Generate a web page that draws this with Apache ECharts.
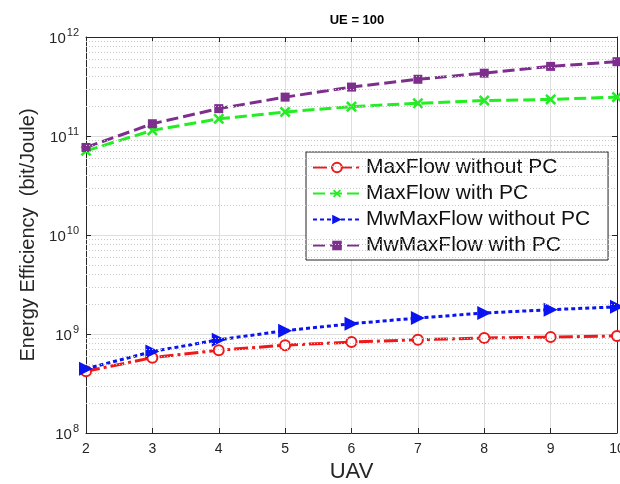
<!DOCTYPE html>
<html><head><meta charset="utf-8">
<script src="https://cdn.jsdelivr.net/npm/echarts@6/dist/echarts.min.js"></script>
<style>html,body{margin:0;padding:0;background:#fff}#c{width:620px;height:484px}</style>
</head><body><div id="c"></div>
<script>
const categories = [2, 3, 4, 5, 6, 7, 8, 9, 10];
const maxFlowNoPC = [4.2e8, 5.77e8, 6.85e8, 7.71e8, 8.28e8, 8.75e8, 9.1e8, 9.3e8, 9.55e8];
const maxFlowPC = [7.08e10, 1.14e11, 1.49e11, 1.75e11, 1.98e11, 2.14e11, 2.28e11, 2.34e11, 2.47e11];
const mwNoPC = [4.45e8, 6.65e8, 8.75e8, 1.08e9, 1.27e9, 1.45e9, 1.63e9, 1.76e9, 1.88e9];
const mwPC = [7.66e10, 1.33e11, 1.89e11, 2.47e11, 3.12e11, 3.74e11, 4.31e11, 5.05e11, 5.63e11];
const seriesNames = ['MaxFlow without PC', 'MaxFlow with PC', 'MwMaxFlow without PC', 'MwMaxFlow with PC'];
const yMin = 1e8, yMax = 1e12;

const minorVals = [];
for (let e = 8; e < 12; e++) for (let m = 2; m <= 9; m++) minorVals.push(m * Math.pow(10, e));

const FONT = '"Liberation Sans", Arial, sans-serif';
const AX = '#262626';
const pair = arr => categories.map((c, i) => [c, arr[i]]);

const chart = echarts.init(document.getElementById('c'), null, {renderer: 'canvas'});
chart.setOption({
  animation: false,
  backgroundColor: '#fff',
  textStyle: {fontFamily: FONT},
  title: {text: 'UE = 100', left: 352, top: 9, textAlign: 'center',
    textStyle: {fontSize: 13, fontWeight: 'bold', color: '#000', fontFamily: FONT}},
  grid: {left: 86, right: 3, top: 37, bottom: 51, containLabel: false, outerBoundsMode: 'none'},
  legend: {
    orient: 'vertical', left: 306, top: 152, itemWidth: 48, itemHeight: 12, itemGap: 5,
    padding: [5, 18, 4, 6], borderColor: '#222', borderWidth: 1, backgroundColor: '#fff',
    textStyle: {fontSize: 21, color: '#111', fontFamily: FONT},
    data: seriesNames
  },
  xAxis: [{
    type: 'value', min: 2, max: 10, interval: 1,
    name: 'UAV', nameLocation: 'middle', nameGap: 22,
    nameTextStyle: {fontSize: 22, color: AX, fontFamily: FONT},
    axisLine: {lineStyle: {color: AX, width: 1}},
    axisTick: {inside: true, length: 5, lineStyle: {color: AX}},
    axisLabel: {fontSize: 14, color: AX, margin: 9, fontFamily: FONT},
    splitLine: {show: true, lineStyle: {color: '#dedede', width: 1}}
  }, {
    type: 'value', min: 2, max: 10, interval: 1, position: 'top',
    axisLine: {lineStyle: {color: AX, width: 1}},
    axisTick: {inside: true, length: 5, lineStyle: {color: AX}},
    axisLabel: {show: false}, splitLine: {show: false}
  }],
  yAxis: [{
    type: 'log', logBase: 10, min: yMin, max: yMax,
    name: 'Energy Efficiency  (bit/Joule)', nameLocation: 'middle', nameGap: 48,
    nameTextStyle: {fontSize: 20, color: AX, fontFamily: FONT},
    axisLine: {show: true, lineStyle: {color: AX, width: 1}},
    axisTick: {inside: true, length: 5, lineStyle: {color: AX}},
    axisLabel: {
      margin: 7, color: AX,
      formatter: v => '{b|10}{s|' + Math.round(Math.log10(v)) + '}',
      rich: {b: {fontSize: 15, color: AX, fontFamily: FONT, padding: [4, 0, 0, 0]},
             s: {fontSize: 11, color: AX, fontFamily: FONT, padding: [0, 0, 9, 1]}}
    },
    splitLine: {show: true, lineStyle: {color: '#dedede', width: 1}}
  }, {
    type: 'log', logBase: 10, min: yMin, max: yMax, position: 'right',
    axisLine: {show: true, lineStyle: {color: AX, width: 1}},
    axisTick: {inside: true, length: 5, lineStyle: {color: AX}},
    axisLabel: {show: false}, splitLine: {show: false}
  }],
  series: [{
    name: seriesNames[0], type: 'line', data: pair(maxFlowNoPC),
    color: '#f01818', symbol: 'emptyCircle', symbolSize: 10,
    lineStyle: {width: 3, type: [14, 4, 3, 4], color: '#f01818'},
    itemStyle: {color: '#f01818', borderWidth: 2.5},
    markLine: {silent: true, symbol: 'none', label: {show: false},
      lineStyle: {type: [1, 2], color: '#c8c8c8', width: 1},
      emphasis: {disabled: true},
      data: minorVals.map(v => ({yAxis: v}))}
  }, {
    name: seriesNames[1], type: 'line', data: pair(maxFlowPC),
    color: '#22ee22',
    symbol: 'path://M4,0H6V4H10V6H6V10H4V6H0V4H4Z', symbolRotate: 45, symbolSize: 13,
    lineStyle: {width: 3, type: [12, 5], color: '#22ee22'},
    itemStyle: {color: '#22ee22'}
  }, {
    name: seriesNames[2], type: 'line', data: pair(mwNoPC),
    color: '#0a14f0', symbol: 'triangle', symbolRotate: -90, symbolSize: 14,
    lineStyle: {width: 3, type: [4, 3], color: '#0a14f0'},
    itemStyle: {color: '#0a14f0'}
  }, {
    name: seriesNames[3], type: 'line', data: pair(mwPC),
    color: '#7e2f8e', symbol: 'rect', symbolSize: 9,
    lineStyle: {width: 3, type: [12, 5], color: '#7e2f8e'},
    itemStyle: {color: '#7e2f8e'}
  }]
});
</script></body></html>
